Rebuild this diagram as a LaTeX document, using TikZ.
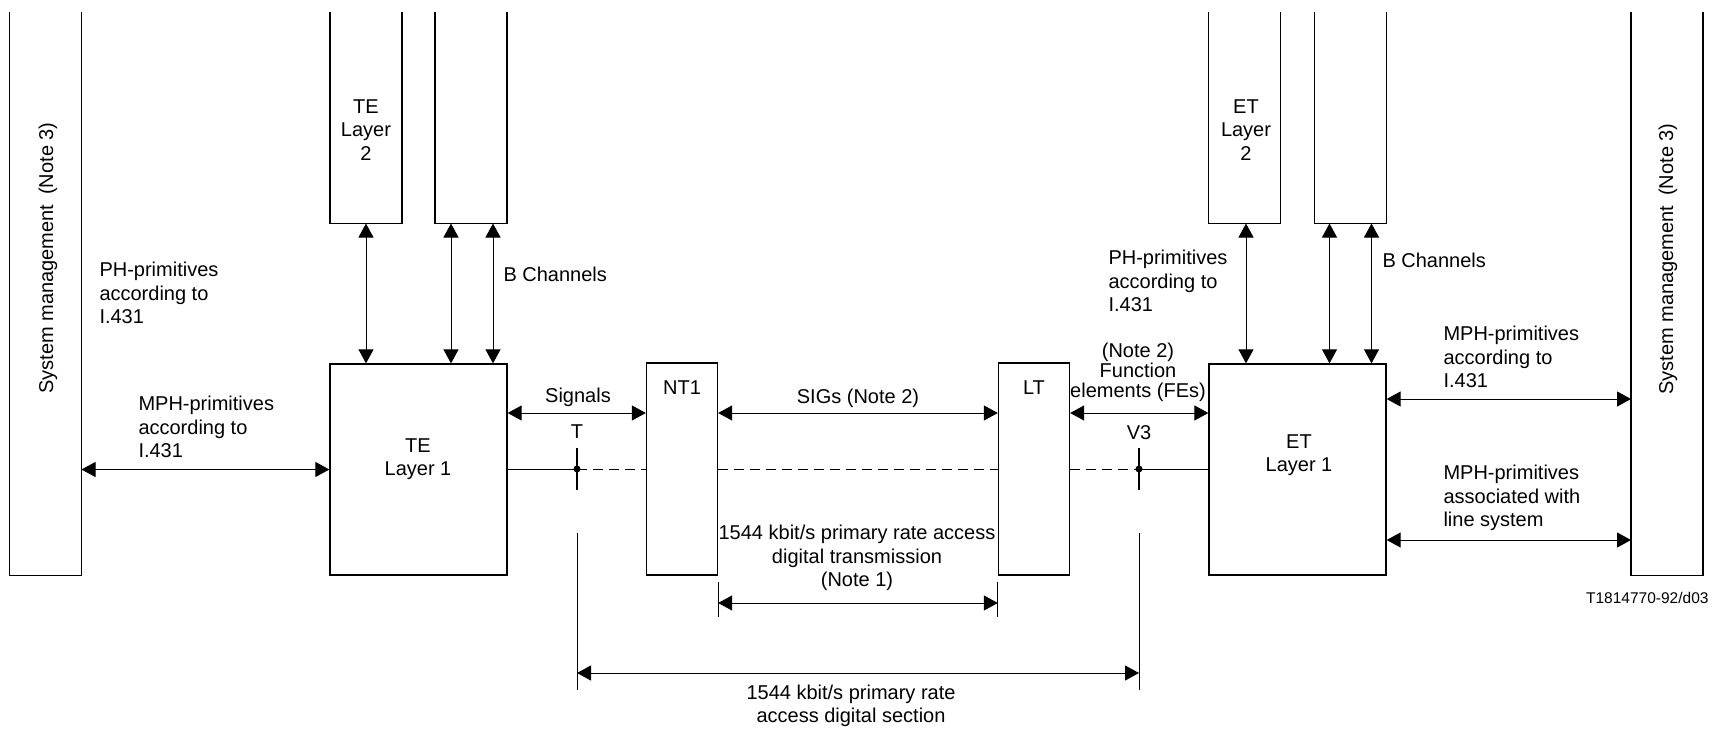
\documentclass[tikz,border=0pt]{standalone}
\usepackage{fontspec}
\setmainfont{Liberation Sans}
\usetikzlibrary{arrows.meta}

\begin{document}
\begin{tikzpicture}[
            x = 1pt, y = -1pt, % pixel units, y going down
            > = {Triangle[length=14pt, width=15pt]}, % arrow head style
            line width = 1pt, % line style
            font = \fontsize{20}{23.5}\selectfont
        ]

        \tikzstyle{box}=[
            draw,
            line width = 1.3pt,
            inner sep = 0pt,
            minimum width = 71pt
        ]
        \tikzstyle{openbox}=[inner sep = 0pt, minimum width = 71pt, minimum height = 210pt]
        \tikzstyle{txt}=[inner sep = 0pt, align = center]
        \tikzstyle{ltxt}=[inner sep = 0pt, align = left, anchor = west]
        \tikzstyle{cut}=[dash pattern = on 10pt off 6pt]

        \useasboundingbox (0,0) rectangle (1712,730);

        % boxes
        \node[openbox, minimum height = 562pt] (sml) at (45.5,294) {};
        \node[openbox, minimum height = 562pt] (smr) at (1667,294) {};
        \node[openbox] (tel2) at (366,118) {};
        \node[openbox] (teb) at (471,118) {};
        \node[openbox] (etl2) at (1244.5,118) {};
        \node[openbox] (etb) at (1350.5,118) {};

        \node[box, minimum width = 177pt, minimum height = 211pt] (tel1) at (418.5,469.5) {};
        \node[box, minimum height = 212pt] (nt1) at (682,469) {};
        \node[box, minimum height = 212pt] (lt) at (1034,469) {};
        \node[box, minimum width = 177pt, minimum height = 211pt] (etl1) at (1297.5,469.5) {};

        \foreach \b in {sml, smr, tel2, teb, etl2, etb}
            \draw[line width = 1.3pt] (\b.north west) -- (\b.south west) -- (\b.south east) -- (\b.north east);

        % box texts
        \node[txt, rotate = 90] (smlt) at (48,258) {System management\enspace(Note 3)};
        \node[txt, rotate = 90] (smrt) at (1668,259) {System management\enspace(Note 3)};
        \node[txt] (tel2t) at (366,130) {TE\\Layer\\2};
        \node[txt] (etl2t) at (1246,130) {ET\\Layer\\2};
        \node[txt] (tel1t) at (418,459) {TE\\Layer 1};
        \node[txt] (etl1t) at (1299,455) {ET\\Layer 1};
        \node[txt] (nt1t) at (682,388) {NT1};
        \node[txt] (ltt) at (1034,388) {LT};

        % levels and reference points
        \coordinate (sig) at (0,413);
        \coordinate (ln) at (0,469);
        \coordinate (tr) at (0,603);
        \coordinate (sec) at (0,673);
        \coordinate (t) at (577,469);
        \coordinate (v3) at (1139,469);

        % layer 2 <-> layer 1
        \draw[<->] (tel2.south) -- (tel2.south |- tel1.north);
        \foreach \d in {-20,22}
            \draw[<->] ([xshift=\d pt]teb.south) -- ([xshift=\d pt]teb.south |- tel1.north);
        \draw[<->] ([xshift=1.5pt]etl2.south) -- ([xshift=1.5pt]etl2.south |- etl1.north);
        \foreach \d in {-21,21}
            \draw[<->] ([xshift=\d pt]etb.south) -- ([xshift=\d pt]etb.south |- etl1.north);

        % primitives
        \draw[<->] (sml.east |- tel1.west) -- (tel1.west);
        \draw[<->] (etl1.east |- 0,399) -- (smr.west |- 0,399);
        \draw[<->] (etl1.east |- 0,540) -- (smr.west |- 0,540);

        % signals
        \draw[<->] (tel1.east |- sig) -- (nt1.west |- sig);
        \draw[<->] (nt1.east |- sig) -- (lt.west |- sig);
        \draw[<->] (lt.east |- sig) -- (etl1.west |- sig);

        % transmission line
        \draw (tel1.east |- ln) -- (t);
        \draw[cut] (t) -- (nt1.west |- ln);
        \draw[cut] (nt1.east |- ln) -- (lt.west |- ln);
        \draw[cut] (lt.east |- ln) -- (v3);
        \draw (v3) -- (etl1.west |- ln);
        \foreach \p in {t, v3} {
            \fill (\p) circle (3.5pt);
            \draw[line width = 1.7pt] ([yshift=21pt]\p) -- ([yshift=-21pt]\p);
            \draw ([yshift=-64pt]\p) -- ([yshift=-221pt]\p);
        }

        % spans
        \draw (nt1.east |- 0,582) -- (nt1.east |- 0,617);
        \draw (lt.west |- 0,582) -- (lt.west |- 0,617);
        \draw[<->] (nt1.east |- tr) -- (lt.west |- tr);
        \draw[<->] (t |- sec) -- (v3 |- sec);

        % labels
        \node[ltxt] (phl) at (99,293) {PH-primitives\\according to\\I.431};
        \node[ltxt] (bcl) at (503,274) {B Channels};
        \node[ltxt] (mphl) at (138,427) {MPH-primitives\\according to\\I.431};
        \node[txt] (sigt) at (578,397) {Signals};
        \node[txt] (tt) at (577,432) {T};
        \node[txt] (sigst) at (858,398) {SIGs (Note 2)};
        \node[txt, font = \fontsize{20}{20}\selectfont] (fet) at (1138,372) {(Note 2)\\Function\\elements (FEs)};
        \node[txt] (v3t) at (1139,433) {V3};
        \node[ltxt] (phr) at (1108,281) {PH-primitives\\according to\\I.431};
        \node[ltxt] (bcr) at (1382,260) {B Channels};
        \node[ltxt] (mphr) at (1443,357) {MPH-primitives\\according to\\I.431};
        \node[ltxt] (mphls) at (1443,498) {MPH-primitives\\associated with\\line system};
        \node[txt] (trt) at (857,558) {1544 kbit/s primary rate access\\digital transmission\\(Note 1)};
        \node[txt] (sect) at (851,706) {1544 kbit/s primary rate\\access digital section};
        \node[anchor = east, inner sep = 0pt, font = \fontsize{15.5}{18}\selectfont] (ref) at (1709,598) {T1814770-92/d03};

\end{tikzpicture}
\end{document}
